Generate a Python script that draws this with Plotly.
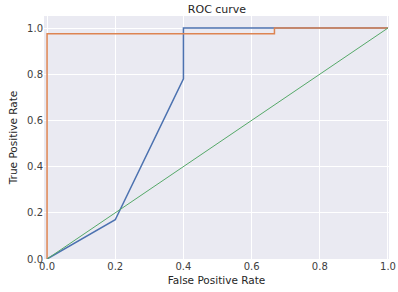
import plotly.graph_objects as go

blue_fpr = [0.0, 0.2, 0.4, 0.4, 1.0]
blue_tpr = [0.0, 0.17, 0.78, 1.0, 1.0]
orange_fpr = [0.0, 0.0, 0.667, 0.667, 1.0]
orange_tpr = [0.0, 0.975, 0.975, 1.0, 1.0]
diag = [0.0, 1.0]
ticks = [0.0, 0.2, 0.4, 0.6, 0.8, 1.0]
tick_text = ["0.0", "0.2", "0.4", "0.6", "0.8", "1.0"]

fig = go.Figure()
fig.add_trace(go.Scatter(x=blue_fpr, y=blue_tpr, mode="lines",
                         line=dict(color="#4C72B0", width=1.5)))
fig.add_trace(go.Scatter(x=orange_fpr, y=orange_tpr, mode="lines",
                         line=dict(color="#DD8452", width=1.5)))
fig.add_trace(go.Scatter(x=diag, y=diag, mode="lines",
                         line=dict(color="#55A868", width=1)))

font = dict(family="DejaVu Sans", size=10, color="#262626")
fig.update_layout(
    width=398, height=292,
    margin=dict(l=44, r=9, t=16, b=33, autoexpand=False),
    paper_bgcolor="white", plot_bgcolor="#EAEAF2",
    showlegend=False,
    font=font,
    title=dict(text="ROC curve", x=217 / 398, xanchor="center",
               y=1 - 9 / 292, yanchor="middle", yref="container", automargin=False,
               font=dict(family="DejaVu Sans", size=11, color="#262626")),
)
fig.update_xaxes(range=[-0.009, 1.003], tickvals=ticks, ticktext=tick_text,
                 showgrid=True, gridcolor="white", gridwidth=1, zeroline=False,
                 showline=False, ticks="", ticklen=0, automargin=False,
                 title=dict(text="False Positive Rate", standoff=5,
                            font=dict(family="DejaVu Sans", size=10.5, color="#262626")),
                 tickfont=dict(family="DejaVu Sans", size=10, color="#404040"))
fig.update_yaxes(range=[0, 1.052], tickvals=ticks, ticktext=tick_text,
                 showgrid=True, gridcolor="white", gridwidth=1, zeroline=False,
                 showline=False, ticks="", ticklen=0, automargin=False,
                 title=dict(text="True Positive Rate", standoff=7,
                            font=dict(family="DejaVu Sans", size=10.5, color="#262626")),
                 tickfont=dict(family="DejaVu Sans", size=10, color="#404040"))

fig.write_html("out.html", config={"displayModeBar": False},
               post_script="document.body.style.margin='0';")
